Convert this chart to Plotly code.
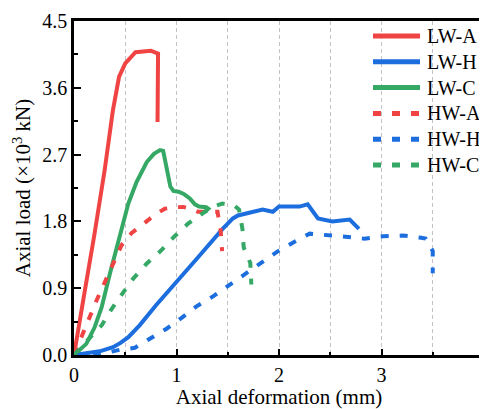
import plotly.graph_objects as go

# ---- data ----
lwa_x = [0, 0.05, 0.1, 0.2, 0.3, 0.38, 0.44, 0.5, 0.6, 0.75, 0.82, 0.815]
lwa_y = [0, 0.38, 0.82, 1.63, 2.5, 3.3, 3.75, 3.93, 4.08, 4.1, 4.06, 3.14]

lwh_x = [0, 0.1, 0.25, 0.38, 0.45, 0.53, 0.64, 0.8, 1.0, 1.2, 1.45, 1.55, 1.6, 1.7,
         1.84, 1.94, 2.0, 2.1, 2.2, 2.28, 2.38, 2.52, 2.69, 2.78]
lwh_y = [0, 0.02, 0.05, 0.105, 0.16, 0.24, 0.4, 0.67, 0.98, 1.3, 1.7, 1.84, 1.88, 1.91,
         1.96, 1.93, 2.0, 2.0, 2.0, 2.03, 1.84, 1.8, 1.825, 1.7]

lwc_x = [0, 0.06, 0.12, 0.2, 0.27, 0.35, 0.42, 0.47, 0.53, 0.61, 0.71, 0.78, 0.84, 0.87,
         0.89, 0.91, 0.94, 0.97, 1.02, 1.07, 1.13, 1.18, 1.22, 1.29, 1.31, 1.27]
lwc_y = [0, 0.07, 0.15, 0.37, 0.645, 1.095, 1.45, 1.72, 2.04, 2.33, 2.6, 2.71, 2.76, 2.75,
         2.6, 2.44, 2.27, 2.21, 2.2, 2.17, 2.11, 2.03, 2.0, 1.99, 1.97, 1.92]

hwa_x = [0, 0.075, 0.156, 0.22, 0.3, 0.383, 0.464, 0.56, 0.64, 0.72, 0.8, 0.886, 0.97,
         1.065, 1.14, 1.21, 1.3, 1.4, 1.43, 1.445]
hwa_y = [0, 0.26, 0.51, 0.735, 0.98, 1.23, 1.48, 1.64, 1.73, 1.815, 1.9, 1.97, 1.99,
         1.995, 1.97, 1.93, 1.93, 1.93, 1.69, 1.40]

hwh_x = [0, 0.22, 0.448, 0.594, 0.74, 0.903, 1.05, 1.195, 1.357, 1.51, 1.666, 1.828, 1.98,
         2.143, 2.3, 2.51, 2.69, 2.834, 3.02, 3.21, 3.387, 3.43, 3.5, 3.5]
hwh_y = [0, 0.0, 0.07, 0.097, 0.22, 0.354, 0.50, 0.655, 0.79, 0.94, 1.095, 1.24, 1.39,
         1.52, 1.635, 1.61, 1.59, 1.568, 1.60, 1.61, 1.58, 1.57, 1.40, 1.10]

hwc_x = [0, 0.1, 0.2, 0.27, 0.367, 0.474, 0.578, 0.708, 0.844, 0.974, 1.113, 1.276, 1.38,
         1.448, 1.56, 1.61, 1.643, 1.656, 1.72, 1.73]
hwc_y = [0, 0.16, 0.3, 0.40, 0.62, 0.83, 1.03, 1.23, 1.40, 1.59, 1.77, 1.93, 2.01,
         2.04, 2.02, 1.96, 1.70, 1.447, 1.24, 0.95]

names = ["LW-A", "LW-H", "LW-C", "HW-A", "HW-H", "HW-C"]
series_x = [lwa_x, lwh_x, lwc_x, hwa_x, hwh_x, hwc_x]
series_y = [lwa_y, lwh_y, lwc_y, hwa_y, hwh_y, hwc_y]

RED = "rgb(240,68,68)"
BLUE = "rgb(28,110,222)"
GREEN = "rgb(52,168,100)"
colors = [RED, BLUE, GREEN, RED, BLUE, GREEN]
DASH = "8px,11px"
dashes = ["solid", "solid", "solid", DASH, DASH, DASH]

FONT = "Liberation Serif"
GRID = "#c2c2c2"

fig = go.Figure()
for nm, xs, ys, c, d in zip(names, series_x, series_y, colors, dashes):
    fig.add_trace(go.Scatter(x=xs, y=ys, name=nm, mode="lines", showlegend=False,
                             line=dict(color=c, width=4, dash=d)))

# ---- legend drawn in paper coordinates (plot area is 410 x 334 px) ----
PW, PH = 410.0, 334.0
leg_x0, leg_x1, leg_tx = 299 / PW, 346 / PW, 351 / PW
leg_top, leg_step = 319 / PH, 25.8 / PH
for i, (nm, c, d) in enumerate(zip(names, colors, dashes)):
    yy = leg_top - i * leg_step
    fig.add_shape(type="line", xref="paper", yref="paper",
                  x0=leg_x0, x1=leg_x1, y0=yy, y1=yy,
                  line=dict(color=c, width=5, dash=d))
    fig.add_annotation(xref="paper", yref="paper", x=leg_tx, y=yy, text=nm,
                       showarrow=False, xanchor="left", yanchor="middle",
                       font=dict(family=FONT, size=20, color="black"))

# page body has an 8px margin, so the figure is sized/offset to compensate
fig.update_layout(
    width=479, height=401,
    margin=dict(l=66, r=3, t=13, b=54),
    paper_bgcolor="white", plot_bgcolor="white",
    font=dict(family=FONT, size=20, color="black"),
    showlegend=False,
)

fig.update_xaxes(
    range=[0, 4], tickmode="linear", tick0=0, dtick=1,
    ticks="inside", ticklen=6, tickwidth=2, tickcolor="black",
    showline=True, linecolor="black", linewidth=2.5, mirror=True,
    showgrid=True, gridcolor=GRID, gridwidth=1, griddash="4px,3px",
    zeroline=False, automargin=False, ticklabeloverflow="allow",
    minor=dict(dtick=0.5, ticks="inside", ticklen=3, tickwidth=2, tickcolor="black",
               showgrid=True, gridcolor=GRID, gridwidth=1, griddash="4px,3px"),
    tickfont=dict(family=FONT, size=20),
    title=dict(text="Axial deformation (mm)", font=dict(family=FONT, size=21), standoff=4),
)
fig.update_yaxes(
    range=[0, 4.5], tickmode="linear", tick0=0, dtick=0.9, tickformat=".1f",
    ticks="inside", ticklen=7, tickwidth=2, tickcolor="black",
    showline=True, linecolor="black", linewidth=2.5, mirror=True,
    showgrid=False, zeroline=False, automargin=False, ticklabeloverflow="allow",
    minor=dict(dtick=0.45, ticks="inside", ticklen=4, tickwidth=2, tickcolor="black",
               showgrid=False),
    tickfont=dict(family=FONT, size=20),
    title=dict(text="Axial load (×10<sup>3</sup> kN)", font=dict(family=FONT, size=21), standoff=6),
)

fig.write_html("out.html")
